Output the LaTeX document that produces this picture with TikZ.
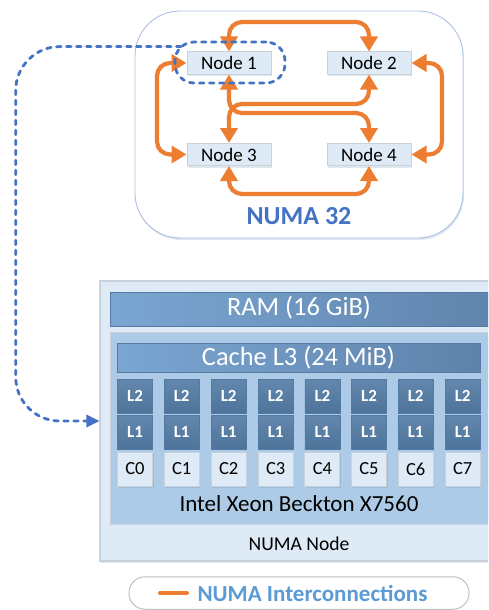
\documentclass[tikz,border=0pt]{standalone}
\usepackage{fontspec}
\setmainfont{Carlito}
\usetikzlibrary{arrows.meta,shadows,positioning,calc}
\definecolor{ora}{HTML}{ED7D31}
\definecolor{dblue}{HTML}{4472C4}
\definecolor{lblue}{HTML}{5B9BD5}
\definecolor{pale}{HTML}{DEEAF6}
\definecolor{mid}{HTML}{ADCBE7}
\definecolor{edgeg}{HTML}{C9D1D9}
\definecolor{steel}{HTML}{527AA3}
\definecolor{barl}{HTML}{7BA6D2}
\definecolor{barr}{HTML}{5E83AB}
\tikzset{
  softshadow/.style={drop shadow={shadow xshift=1pt,shadow yshift=-2pt,opacity=.18,fill=steel}},
  numabox/.style={draw=edgeg,line width=1pt,fill=pale,minimum width=84pt,minimum height=22pt,inner sep=0pt,font=\fontsize{19}{21}\selectfont,softshadow},
  link/.style={draw=ora,line width=4.2pt,rounded corners=13pt,{Triangle[width=17pt,length=15pt]}-{Triangle[width=17pt,length=15pt]}},
  dotlink/.style={draw=dblue,line width=2.8pt,dash pattern=on 4.5pt off 5.5pt,line cap=round},
  ltwo/.style={draw=steel,line width=.8pt,minimum width=35pt,minimum height=34pt,inner sep=0pt,text=white,
     top color=#1!90!white,bottom color=#1!95!black,font=\bfseries\fontsize{17}{19}\selectfont},
  ltwo/.default=steel,
  corebox/.style={draw=edgeg,line width=1pt,fill=pale,minimum width=35pt,minimum height=34pt,inner sep=0pt,font=\fontsize{18.5}{21}\selectfont,softshadow},
}
\begin{document}
\begin{tikzpicture}[x=1pt,y=-1pt]
\useasboundingbox (0,0) rectangle (488,610);
\clip (0,0) rectangle (488,610);
% upper group
\node[draw=dblue!45,line width=.9pt,fill=white,rounded corners=45pt,minimum width=328pt,minimum height=227pt,inner sep=0pt,softshadow] (numa) at (299,124.5) {};
\node[numabox] (n1) at (229,63) {Node 1};
\node[numabox] (n2) at (369,63) {Node 2};
\node[numabox] (n3) at (229,154.5) {Node 3};
\node[numabox] (n4) at (369,154.5) {Node 4};
\node[text=dblue,font=\bfseries\fontsize{26}{28}\selectfont] (title) at (299,216) {NUMA 32};
% links
\draw[link] (n1.north) -- (229,22) -- (369,22) -- (n2.north);
\draw[link] (n1.west) -- (157,63) -- (157,154.5) -- (n3.west);
\draw[link] (n2.east) -- (442,63) -- (442,154.5) -- (n4.east);
\draw[link] (n3.south) -- (229,194) -- (369,194) -- (n4.south);
\draw[link] (n1.south) -- (229,113) -- (369,113) -- (n4.north);
\draw[link] (n3.north) -- (229,104) -- (369,104) -- (n2.south);
% dotted group and connector
\node[dotlink,draw,rounded corners=19pt,minimum width=110pt,minimum height=41pt,inner sep=0pt] (d1) at (230,62.5) {};
% lower group
\node[draw=edgeg,line width=1.2pt,fill=pale,minimum width=420pt,minimum height=280pt,inner sep=0pt,softshadow] (node) at (310,421) {};
\coordinate (dstart) at (181,46.6);
\coordinate (dend) at (node.west);
\draw[dotlink,rounded corners=44pt] (dstart) -- (15.7,46.6) -- (15.7,421) -- ($(dend)+(-12,0)$);
\draw[draw=none,fill=dblue] (dend) -- ++(-13,-6.5) -- ++(0,13) -- cycle;
\node[draw=steel,line width=.9pt,left color=barl,right color=barr,minimum width=400pt,minimum height=34pt,inner sep=0pt] (ram) at (310,309) {};
\node[text=white,font=\fontsize{26.4}{28}\selectfont] (ramt) at (299,308) {RAM (16 GiB)};
\node[draw=edgeg,line width=1pt,fill=mid,minimum width=400pt,minimum height=192pt,inner sep=0pt] (proc) at (310,428) {};
\node[draw=steel,line width=.9pt,left color=barl,right color=barr,minimum width=363pt,minimum height=29pt,inner sep=0pt,text=white,font=\fontsize{26.4}{28}\selectfont] (l3) at (298.5,357.5) {Cache L3 (24 MiB)};
\foreach \i/\x in {0/135,1/181.7,2/228.7,3/275.7,4/322.4,5/369,6/415.7,7/462.7}{
  \node[ltwo] (ltwo\i) at (\x,396) {L2};
  \node[ltwo] (lone\i) at (\x,432) {L1};
  \node[corebox] (c\i) at (\x,469) {C\i};
}
\node[font=\fontsize{23}{25}\selectfont] (cpu) at (299,504) {Intel Xeon Beckton X7560};
\node[font=\fontsize{19.6}{21}\selectfont] (nn) at (299,544) {NUMA Node};
% legend
\node[draw=black!25,line width=1pt,fill=white,rounded corners=16pt,minimum width=340pt,minimum height=32.5pt,inner sep=0pt] (leg) at (299,593) {};
\coordinate (la) at (160,593);
\coordinate (lb) at (187,593);
\draw[ora,line width=4pt,line cap=round] (la) -- (lb);
\node[text=lblue,font=\bfseries\fontsize{23}{25}\selectfont] (legt) at (312.5,593) {NUMA Interconnections};
\end{tikzpicture}
\end{document}
